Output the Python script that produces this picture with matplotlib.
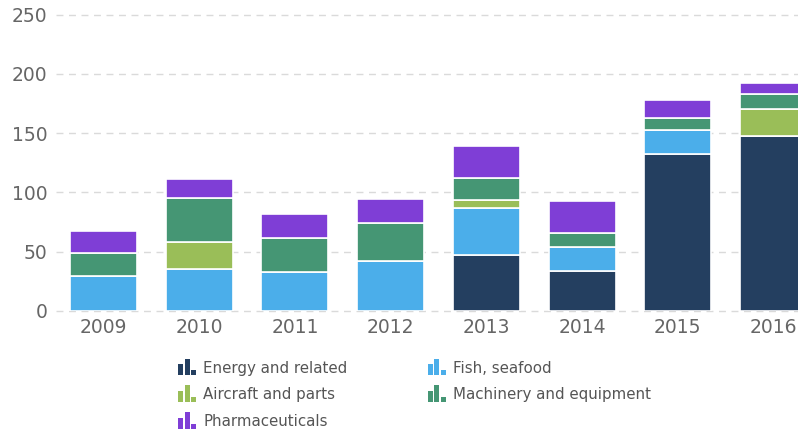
import numpy as np
import matplotlib.pyplot as plt
from matplotlib.patches import Rectangle
from matplotlib.legend_handler import HandlerBase

# Werte
years = ["2009", "2010", "2011", "2012", "2013", "2014", "2015", "2016"]
energy = [0, 0, 0, 0, 47, 33.5, 132, 147.5]
fish = [29, 35, 33, 42, 39.5, 20, 21, 0]
aircraft = [0, 23, 0, 0, 7, 0, 0, 23]
machinery = [19.5, 37, 28, 32, 18.5, 12.5, 9.5, 12.5]
pharma = [19, 16.5, 21, 20, 27, 27, 15.5, 9]

names = ["Energy and related", "Fish, seafood", "Aircraft and parts",
         "Machinery and equipment", "Pharmaceuticals"]
colors = ["#243f60", "#4baeea", "#9abe58", "#459674", "#7f3ed6"]
series = [energy, fish, aircraft, machinery, pharma]


class BarIconHandler(HandlerBase):
    # kleines Balkendiagramm-Symbol statt normalem Rechteck
    def create_artists(self, legend, orig_handle, xdescent, ydescent,
                       width, height, fontsize, trans):
        col = orig_handle.get_facecolor()
        bw = width / 3.5
        gap = (width - 3 * bw) / 2
        rel = [0.65, 1.0, 0.3]
        h = height * 1.5
        y0 = -ydescent - height * 0.2
        out = []
        for i, r in enumerate(rel):
            x = -xdescent + i * (bw + gap)
            out.append(Rectangle((x, y0), bw, h * r, facecolor=col,
                                 edgecolor="none", transform=trans))
        return out


fig = plt.figure(figsize=(7.98, 4.32), dpi=100)
ax_left = 55.7 / 798
ax_width = 765.6 / 798
ax_bottom = (432 - 310.7) / 432
ax_height = (310.7 - 14.7) / 432
ax = fig.add_axes([ax_left, ax_bottom, ax_width, ax_height])

x = np.arange(len(years))
bottom = np.zeros(len(years))
handles = []
for vals, col, name in zip(series, colors, names):
    vals = np.array(vals, dtype=float)
    bars = ax.bar(x, vals, 0.7, bottom=bottom, color=col,
                  edgecolor="white", linewidth=1.2, label=name, zorder=3)
    handles.append(bars.patches[0])
    bottom += vals

ax.set_xlim(-0.5, len(years) - 0.5)
ax.set_ylim(0, 250)
ax.set_yticks([0, 50, 100, 150, 200, 250])
ax.set_xticks(x)
ax.set_xticklabels(years)
ax.tick_params(axis="both", length=0, labelsize=13.5, colors="#666666")
ax.tick_params(axis="y", pad=6)
ax.tick_params(axis="x", pad=5)
for s in ax.spines.values():
    s.set_visible(False)
ax.grid(axis="y", color="#dadada", linestyle=(0, (5, 4)), linewidth=1, zorder=0)
for gl in ax.get_ygridlines():
    gl.set_clip_on(False)
ax.set_axisbelow(True)

# Reihenfolge so, dass die Spalten wie im Original aussehen
order = [0, 2, 4, 1, 3]
leg = fig.legend([handles[i] for i in order], [names[i] for i in order],
                 ncol=2, loc="upper left", bbox_to_anchor=(0.2231, 0.165),
                 frameon=False, fontsize=10.8, handlelength=1.22,
                 handleheight=0.75, handletextpad=0.45, columnspacing=5.35,
                 labelspacing=0.78, borderpad=0, borderaxespad=0,
                 handler_map={Rectangle: BarIconHandler()})
for t in leg.get_texts():
    t.set_color("#555555")

fig.savefig("out.png", dpi=100)
